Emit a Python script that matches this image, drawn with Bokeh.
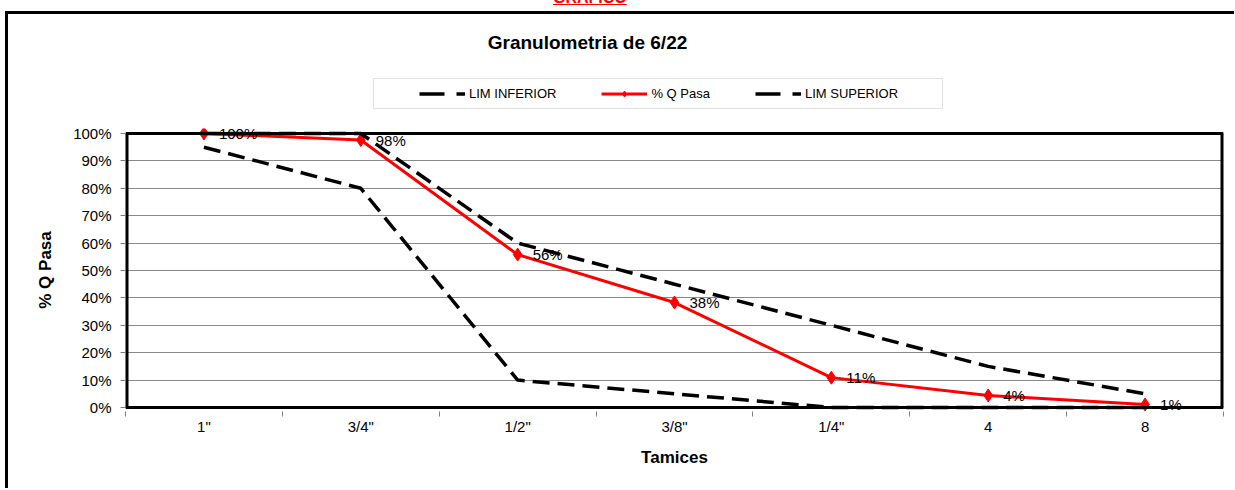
from bokeh.plotting import figure
from bokeh.models import (Range1d, FixedTicker, CustomJSTickFormatter, NumeralTickFormatter,
                          Legend, LegendItem, LabelSet, Label, Span, BoxAnnotation,
                          ColumnDataSource, Column, Div)
from bokeh.core.properties import value
from bokeh.embed import file_html
from bokeh.resources import INLINE

# ---- data ----
tamices = ['1"', '3/4"', '1/2"', '3/8"', '1/4"', '4', '8']
lim_inferior = [0.95, 0.80, 0.10, 0.05, 0.00, 0.00, 0.00]
q_pasa = [1.000, 0.976, 0.558, 0.383, 0.109, 0.044, 0.011]
lim_superior = [1.00, 1.00, 0.60, 0.45, 0.30, 0.15, 0.05]
y_ticks = [0.0, 0.1, 0.2, 0.3, 0.4, 0.5, 0.6, 0.7, 0.8, 0.9, 1.0]
encabezado = "GRAFICO"
titulo = "Granulometria de 6/22"
series_names = ["LIM INFERIOR", "% Q Pasa", "LIM SUPERIOR"]

FONT = "Liberation Sans"
W = 1226
TOP = 14          # page y of the figures' top (below the chart border)
HEAD_H = 108
n = len(tamices)
xpos = [i + 0.5 for i in range(n)]

INF_STYLE = dict(line_color="black", line_width=3.5, line_dash="17 8")
Q_STYLE = dict(line_color="#ff0000", line_width=3)
QM_STYLE = dict(marker="diamond", size=13, fill_color="#ff0000", line_color="#ff0000")

src = ColumnDataSource(dict(x=xpos, inf=lim_inferior, q=q_pasa, sup=lim_superior,
                            lbl=[f"{round(v * 100):.0f}%" for v in q_pasa]))

# ---------------- header: title + legend (page-pixel coordinates) ----------------
h = figure(width=W, height=HEAD_H, output_backend="svg", toolbar_location=None,
           x_range=Range1d(125, 1223), y_range=Range1d(TOP + HEAD_H, TOP),
           x_axis_type=None, y_axis_type=None,
           min_border_left=117, min_border_right=11, min_border_top=0, min_border_bottom=0)
h.outline_line_color = None
h.grid.visible = False
h.background_fill_color = "white"
h.border_fill_color = "white"

h.add_layout(Label(x=587, y=42, text=titulo, text_align="center", text_baseline="middle",
                   text_font=FONT, text_font_size="19px", text_font_style="bold",
                   text_color="black"))
h.add_layout(BoxAnnotation(left=373, right=942, top=78, bottom=108,
                           fill_alpha=0, line_color="#a0a0a0", line_width=1))

# legend proxies share the real data, which lies outside this panel's ranges
LEG_DASH = dict(line_color="black", line_width=3.5, line_dash="25 12")
l_inf = h.line("x", "inf", source=src, **LEG_DASH)
l_q = h.line("x", "q", source=src, **Q_STYLE)
l_qm = h.scatter("x", "q", source=src, marker="diamond", size=9,
                 fill_color="#ff0000", line_color="#ff0000")
l_sup = h.line("x", "sup", source=src, **LEG_DASH)

legend = Legend(items=[LegendItem(label=series_names[0], renderers=[l_inf]),
                       LegendItem(label=series_names[1], renderers=[l_q, l_qm]),
                       LegendItem(label=series_names[2], renderers=[l_sup])],
                location=(287, 14.5), orientation="horizontal",
                border_line_alpha=0, background_fill_alpha=0,
                padding=7, margin=0, spacing=45, glyph_width=46, glyph_height=15,
                label_standoff=4, label_text_font=FONT, label_text_font_size="13px",
                label_text_color="black", label_height=15)
h.add_layout(legend, "center")

# ---------------- main chart ----------------
p = figure(width=W, height=474 - HEAD_H, output_backend="svg", toolbar_location=None,
           x_range=Range1d(0, n), y_range=Range1d(-0.0146, 1.0182),
           min_border_left=117, min_border_right=11, min_border_top=6, min_border_bottom=77)
p.background_fill_color = "white"
p.border_fill_color = "white"
p.outline_line_color = None

xa = p.xaxis[0]
xa.ticker = FixedTicker(ticks=xpos, minor_ticks=list(range(n + 1)))
xa.formatter = CustomJSTickFormatter(args=dict(labels=tamices),
                                     code="return labels[Math.round(tick - 0.5)];")
xa.major_tick_out = 0
xa.major_tick_in = 0
xa.minor_tick_out = 5
xa.minor_tick_in = 0
xa.minor_tick_line_color = "#808080"
xa.axis_line_color = None
xa.major_label_text_font = FONT
xa.major_label_text_font_size = "15px"
xa.major_label_text_color = "black"
xa.major_label_standoff = 1
xa.axis_label = "Tamices"
xa.axis_label_text_font = FONT
xa.axis_label_text_font_size = "17px"
xa.axis_label_text_font_style = "bold"
xa.axis_label_text_color = "black"
xa.axis_label_standoff = 10

ya = p.yaxis[0]
ya.ticker = FixedTicker(ticks=y_ticks)
ya.formatter = NumeralTickFormatter(format="0%")
ya.major_tick_out = 5
ya.major_tick_in = 0
ya.major_tick_line_color = "#808080"
ya.minor_tick_line_color = None
ya.axis_line_color = None
ya.major_label_text_font = FONT
ya.major_label_text_font_size = "15px"
ya.major_label_text_color = "black"
ya.major_label_standoff = 9
ya.axis_label = "% Q Pasa"
ya.axis_label_text_font = FONT
ya.axis_label_text_font_size = "17px"
ya.axis_label_text_font_style = "bold"
ya.axis_label_text_color = "black"
ya.axis_label_standoff = 15

p.xgrid.grid_line_color = None
p.ygrid.grid_line_color = "#8a8a8a"
p.ygrid.grid_line_width = 1

p.line("x", "inf", source=src, **INF_STYLE)
p.line("x", "q", source=src, **Q_STYLE)
p.scatter("x", "q", source=src, **QM_STYLE)
p.line("x", "sup", source=src, **INF_STYLE)

# plot-area frame
for loc in (0, 1):
    p.add_layout(Span(location=loc, dimension="width", line_color="black", line_width=3))
p.segment(x0=[0, n], y0=[0, 0], x1=[0, n], y1=[1, 1], line_color="black", line_width=6)

p.add_layout(LabelSet(x="x", y="q", text="lbl", source=src, x_offset=15,
                      text_baseline="middle", text_align="left",
                      text_font=value(FONT), text_font_size=value("15px"),
                      text_color="black"))

chart = Column(children=[h, p], spacing=0, margin=0,
               styles={"margin-left": "5px", "border-left": "3px solid black",
                       "border-top": "3px solid black"})

head = Div(text=('<span style="position:relative; top:-13px; color:#ff0000; '
                 'font-weight:bold; font-size:16px; font-family:\'Liberation Sans\'; '
                 'text-decoration: underline;">' + encabezado + '</span>'),
           width=90, height=11, margin=(0, 0, 0, 553),
           styles={"overflow": "hidden", "color": "#ff0000"})

page = Column(children=[head, chart], spacing=0, margin=0)

open("out.html", "w").write(file_html(page, INLINE))
